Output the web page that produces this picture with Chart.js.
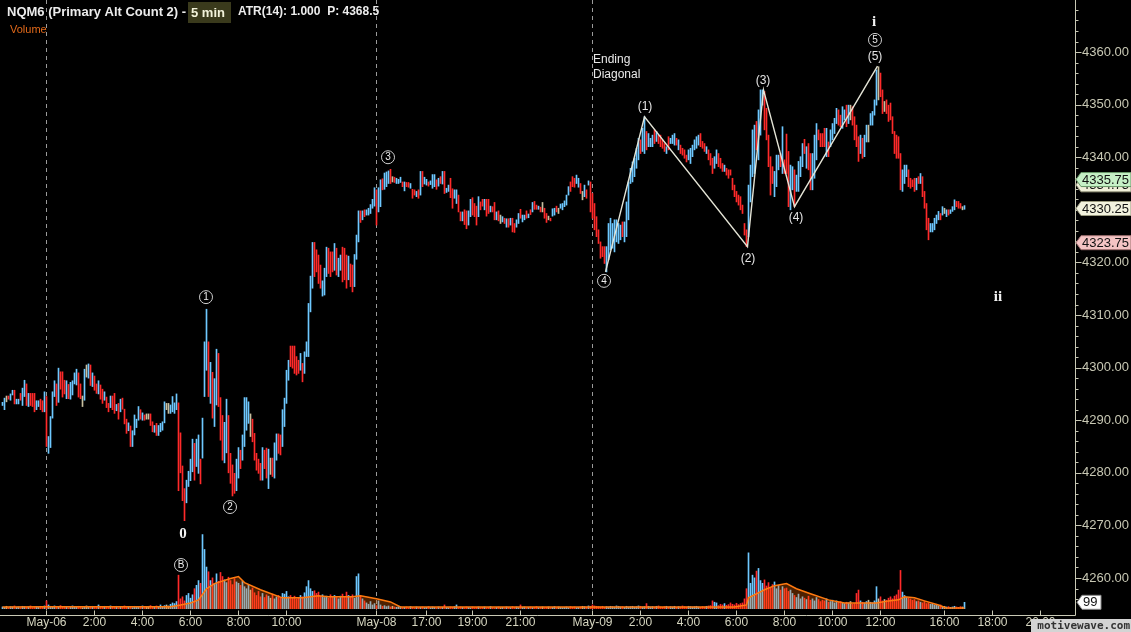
<!DOCTYPE html>
<html><head><meta charset="utf-8">
<script src="https://cdn.jsdelivr.net/npm/chart.js@4.4.1/dist/chart.umd.min.js"></script>
<style>html,body{margin:0;padding:0;background:#000;overflow:hidden}canvas{display:block}</style>
</head><body>
<canvas id="c" width="1131" height="632"></canvas>
<script>
// ---------- DATA ----------
const highs = [
4293.4,4294.2,4294.6,4294.6,4295.0,4295.7,4295.7,4294.0,4294.0,4295.1,
4296.1,4297.6,4296.9,4295.1,4295.1,4295.1,4295.1,4293.7,4293.7,4294.0,
4293.7,4295.4,4294.5,4286.9,4290.7,4295.4,4297.5,4296.9,4299.9,4299.2,
4299.2,4297.6,4297.5,4296.8,4297.2,4297.5,4299.0,4299.7,4299.0,4296.9,
4294.6,4299.7,4300.5,4300.7,4300.5,4299.0,4298.4,4296.9,4297.5,4296.7,
4295.9,4295.4,4294.4,4293.2,4294.6,4294.6,4295.1,4293.0,4293.2,4294.0,
4294.2,4292.1,4290.2,4289.5,4288.9,4288.0,4291.0,4290.2,4292.6,4292.0,
4291.4,4291.0,4291.2,4291.2,4291.2,4289.7,4289.0,4289.4,4289.0,4289.4,
4289.7,4293.5,4293.2,4293.2,4292.9,4294.5,4293.3,4295.0,4293.3,4287.6,
4281.3,4277.0,4278.6,4280.3,4282.6,4286.4,4285.6,4286.4,4287.2,
4282.6,4290.4,4304.9,4311.1,4304.9,4301.0,4299.1,4297.9,4303.5,4302.7,
4294.3,4290.9,4289.6,4294.0,4290.9,4283.7,4281.5,4279.9,4282.6,4284.8,
4284.3,4287.2,4294.3,4294.3,4293.5,4291.2,4290.2,4287.5,4283.7,4282.6,
4281.8,4284.8,4284.3,4284.7,4284.5,4282.8,4282.8,4285.7,4287.4,4287.4,
4287.2,4292.0,4294.2,4299.5,4301.4,4304.1,4304.1,4304.1,4302.1,4301.4,
4302.7,4300.8,4303.0,4304.9,4312.2,4317.4,4323.8,4323.8,4322.4,4321.4,
4319.5,4316.5,4318.9,4322.9,4322.7,4322.0,4322.0,4323.6,4322.7,4320.8,
4321.4,4322.9,4322.7,4321.4,4321.2,4319.7,4319.5,4321.5,4325.2,4329.8,
4329.8,4329.8,4330.0,4330.0,4330.3,4331.0,4332.0,4334.2,4333.8,4334.2,
4335.7,4335.9,4337.0,4337.2,4337.4,4337.7,4336.3,4336.2,4336.0,4335.8,
4336.2,4335.3,4335.3,4335.2,4335.2,4335.0,4333.9,4333.8,4333.5,4333.8,
4337.3,4337.3,4336.2,4335.8,4335.3,4335.5,4336.7,4336.7,4335.7,4336.0,
4336.3,4337.3,4337.3,4334.1,4334.7,4336.0,4334.0,4333.8,4333.8,4332.8,
4329.6,4329.6,4330.0,4329.8,4329.8,4332.0,4332.3,4331.2,4330.7,4332.5,
4331.5,4332.0,4332.0,4332.0,4332.0,4330.7,4330.6,4331.4,4329.6,4329.8,
4329.0,4328.7,4328.4,4328.3,4328.3,4328.4,4328.4,4327.4,4328.1,4329.3,
4330.1,4329.0,4329.0,4329.8,4329.2,4330.0,4331.4,4331.6,4330.9,4330.7,
4330.5,4331.4,4330.3,4329.3,4328.8,4328.4,4330.2,4330.3,4330.7,4330.3,
4331.1,4331.2,4331.7,4332.8,4334.4,4335.3,4336.3,4336.0,4336.6,4336.0,
4335.0,4333.5,4334.7,4333.8,4335.5,4335.3,
4333.1,4331.2,4328.7,4326.2,4323.9,4323.0,4323.0,4323.0,4327.4,4328.4,
4327.4,4328.1,4328.1,4327.4,4327.1,4327.7,4327.7,4331.5,4335.3,4337.9,
4339.1,4339.8,4341.7,4343.6,4343.3,4345.5,4347.7,4344.9,4344.5,4343.6,
4344.2,4345.2,4344.9,4344.2,4344.2,4343.3,4342.6,4342.0,4343.9,4343.6,
4344.2,4344.5,4343.6,4343.3,4342.3,4341.7,4341.4,4340.4,4341.4,4341.7,
4342.3,4343.3,4343.9,4344.2,4344.5,4343.0,4342.6,4342.0,4341.4,4340.7,
4339.8,4340.1,4341.4,4340.7,4339.8,4338.8,4338.5,4337.9,4337.6,4337.6,
4336.0,4334.7,4333.5,4332.8,4332.5,4330.9,4327.4,4326.2,4334.7,4338.5,
4345.2,4346.1,4346.8,4349.0,4352.8,4352.8,4352.5,4349.3,4344.2,4340.1,
4338.2,4337.3,4340.4,4340.4,4340.7,4345.8,4339.5,
4344.4,4341.1,4338.5,4338.2,4337.6,4336.6,4339.2,4340.1,4342.6,4343.4,
4342.0,4342.6,4340.7,4340.7,4344.2,4346.4,4345.2,4344.5,4344.5,4345.5,
4345.5,4342.9,4345.2,4346.4,4347.4,4349.3,4349.0,4348.0,4349.6,4349.0,
4349.9,4349.9,4349.9,4349.6,4347.7,4346.1,4343.9,4344.2,4343.6,4344.2,
4346.1,4346.1,4348.3,4348.7,4350.9,4356.6,4357.2,4356.0,4352.8,4350.6,
4350.9,4349.9,4350.3,4347.7,4344.9,4344.2,4343.9,4340.7,4337.6,4338.5,
4338.5,4337.6,4336.0,4335.7,4336.0,4336.0,4336.3,4336.9,4336.3,4333.5,
4331.2,4328.4,4327.4,4327.4,4328.4,4329.0,4329.7,4329.3,4330.6,4330.3,
4330.0,4330.0,4330.0,4330.6,4331.9,4331.6,4331.6,4331.2,4330.6,4330.8
];
const lows = [
4292.8,4292.0,4293.5,4294.0,4293.8,4294.8,4293.1,4293.1,4293.1,4293.8,
4292.8,4294.5,4292.8,4292.6,4292.8,4292.6,4291.6,4292.0,4292.6,4292.0,
4291.6,4291.6,4285.0,4283.7,4284.8,4290.4,4294.5,4292.8,4293.4,4295.9,
4294.4,4295.0,4294.1,4294.1,4294.0,4294.8,4296.9,4296.7,4294.4,4294.1,
4292.6,4293.8,4298.2,4298.0,4296.6,4296.4,4295.7,4295.1,4295.0,4294.0,
4293.2,4293.8,4292.4,4291.6,4292.4,4292.0,4291.3,4291.8,4290.2,4291.6,
4292.1,4289.3,4287.5,4288.0,4285.0,4285.0,4287.2,4288.6,4290.0,4290.2,
4290.0,4290.0,4290.2,4290.2,4289.0,4287.8,4287.7,4287.1,4287.1,4287.8,
4288.1,4289.5,4292.0,4291.3,4291.3,4291.6,4291.3,4292.0,4276.6,4280.0,
4274.7,4270.9,4274.3,4277.4,4278.5,4280.2,4278.6,4281.2,4279.9,
4277.9,4282.8,4294.5,4299.5,4294.5,4293.2,4290.4,4288.8,4292.9,4292.6,
4286.2,4282.4,4281.9,4283.8,4280.0,4278.0,4275.6,4276.1,4276.6,4279.0,
4280.8,4282.4,4285.0,4288.1,4289.4,4286.9,4285.9,4282.4,4280.5,4279.9,
4278.6,4278.6,4280.8,4279.0,4277.0,4279.7,4279.3,4279.0,4282.4,4283.7,
4283.4,4285.0,4288.8,4293.2,4297.6,4300.2,4299.9,4298.9,4298.6,4298.9,
4299.5,4297.3,4298.9,4302.1,4302.1,4310.6,4315.1,4317.3,4318.2,4316.0,
4315.1,4313.6,4313.8,4317.3,4317.9,4317.3,4318.2,4318.5,4317.6,4317.3,
4318.5,4316.3,4316.7,4315.1,4316.7,4315.4,4314.4,4315.4,4320.6,4323.9,
4327.6,4328.1,4328.7,4329.0,4329.0,4329.3,4330.3,4330.7,4327.1,4329.6,
4330.6,4333.8,4333.9,4334.4,4335.0,4335.0,4335.3,4335.2,4335.0,4335.0,
4335.2,4334.4,4333.6,4334.4,4334.3,4334.1,4332.2,4332.8,4332.5,4332.2,
4332.8,4334.4,4334.9,4334.7,4334.5,4334.8,4334.1,4334.4,4333.9,4334.5,
4335.0,4334.9,4333.1,4333.3,4333.5,4332.3,4330.3,4332.2,4331.2,4329.6,
4327.9,4327.9,4327.2,4326.4,4327.1,4328.7,4329.0,4328.7,4327.1,4328.7,
4330.0,4330.7,4330.0,4328.8,4329.3,4329.6,4329.6,4328.1,4328.1,4327.9,
4327.4,4327.7,4327.4,4326.7,4326.7,4327.1,4325.8,4325.7,4326.7,4327.4,
4328.4,4327.7,4328.1,4328.4,4328.5,4329.1,4329.6,4330.1,4330.1,4330.1,
4329.6,4329.6,4328.4,4327.6,4328.1,4327.9,4328.8,4329.0,4329.6,4329.3,
4330.3,4330.0,4330.6,4330.9,4332.8,4333.5,4334.4,4334.3,4335.0,4334.3,
4333.1,4331.9,4332.5,4332.2,4334.7,4329.6,
4328.4,4326.2,4324.9,4323.6,4320.8,4321.1,4319.8,4318.2,4320.5,4322.4,
4322.7,4322.0,4323.9,4323.6,4324.3,4324.9,4323.9,4324.9,4328.1,4335.0,
4335.3,4336.3,4337.9,4339.5,4340.7,4341.1,4340.7,4341.4,4342.0,4342.0,
4342.0,4342.6,4343.0,4342.6,4342.0,4341.7,4341.1,4340.7,4341.4,4342.6,
4342.6,4342.3,4342.3,4341.4,4340.7,4340.4,4339.8,4339.1,4339.5,4338.8,
4340.1,4341.4,4341.7,4342.3,4342.0,4341.7,4341.1,4340.7,4339.5,4338.5,
4336.9,4337.9,4338.8,4338.2,4337.9,4337.3,4337.3,4336.6,4336.0,4336.6,
4333.8,4332.5,4331.5,4330.9,4330.0,4329.3,4325.2,4323.0,4324.9,4331.5,
4336.3,4336.9,4341.4,4339.5,4344.2,4349.9,4345.2,4343.3,4338.2,4332.8,
4335.0,4332.5,4334.4,4337.6,4338.2,4336.9,4336.9,
4336.9,4330.6,4330.0,4333.8,4330.6,4333.5,4333.5,4336.3,4338.2,4340.7,
4337.9,4337.6,4333.8,4333.8,4336.0,4339.5,4343.3,4342.0,4342.0,4342.0,
4340.1,4340.1,4342.0,4343.3,4344.5,4346.4,4346.1,4345.8,4345.5,4347.1,
4345.8,4346.4,4347.1,4346.1,4343.3,4342.0,4339.2,4340.7,4339.8,4340.1,
4342.9,4342.9,4346.1,4346.1,4348.0,4349.9,4350.9,4351.5,4348.3,4348.7,
4348.3,4346.8,4347.1,4344.5,4340.7,4339.8,4339.8,4333.8,4333.5,4335.0,
4336.3,4334.4,4334.1,4334.4,4333.5,4333.8,4335.0,4335.0,4332.5,4330.3,
4326.2,4324.3,4325.8,4325.8,4326.2,4327.4,4328.1,4328.1,4329.0,4329.3,
4328.7,4329.0,4329.3,4329.7,4330.0,4330.6,4330.3,4330.3,4330.0,4330.1
];
// bar direction: u = up (close>open), d = down, n = unchanged
const barDir = [
"uunduuduud","uududdduud","duduuuudud","dduduuuudd","nunududdud",
"dudduddudu","ddduduuuud","udnndduduu","uunnuuuudd","dduuuuduu",
"duuududuud","dduudddduu","duuuundddd","duddunduud","duuuuddddd",
"uduuuuuddd","duuudddudu","udddudduuu","duduuuuudu","uduuudnduu",
"ududduddud","uduuduuudu","duduudduud","dudduudddu","ddudduddud",
"nudududduu","duudududdu","dnddnduudn","uuuuuddduu","dnudud",
"ddddddduuu","uuuuuduuuu","uuuuduuduu","ududdddudu","uududddduu",
"uuuudddudd","duuddduddd","dddddddduu","uuduuudddd","duuudud",
"dduuduuuud","udduuudddd","uduuuudduu","dunddddudu","unuuuunddn",
"dddddddduu","uddddududd","dduuuuudun","uduuudddnu"
].join('');
const volumes = [
30,25,40,20,35,30,45,25,30,20,40,35,25,30,45,20,30,35,25,40,30,45,
120,60,
40,30,45,35,25,50,30,40,35,20,30,45,25,35,40,30,20,35,45,30,25,40,30,35,60,30,25,40,35,30,45,25,30,40,20,35,30,45,25,35,30,20,40,35,30,25,45,30,35,40,50,30,25,45,35,60,40,
50,60,45,70,90,80,110,500,
150,180,120,200,230,160,210,
300,350,420,380,1100,880,620,550,420,
460,380,520,410,540,480,430,390,470,420,360,450,400,380,350,410,330,300,360,280,310,
240,200,260,180,230,170,210,190,160,220,150,180,200,170,230,
220,260,180,200,160,190,150,170,200,180,
240,330,420,300,260,270,230,250,190,210,
170,190,160,210,180,200,170,150,190,220,180,250,200,180,210,160,
480,520,200,150,
120,90,70,110,60,80,50,120,60,40,50,35,45,30,40,30,25,35,30,20,
25,30,20,35,25,15,30,20,25,30,
20,25,35,20,30,25,15,30,20,25,
60,25,20,30,25,35,60,20,30,25,
20,30,25,15,30,20,25,30,20,25,
30,20,25,35,20,15,25,30,20,25,
20,30,25,20,35,25,30,20,60,25,
30,20,25,30,20,25,35,20,25,30,
20,25,30,20,25,35,20,30,25,20,
25,30,20,35,25,30,20,25,30,40,
35,30,45,40,
60,45,40,35,30,40,25,35,30,40,
35,30,45,40,30,35,25,40,30,35,
40,30,35,45,40,30,35,80,40,30,
35,30,40,45,30,25,35,40,30,35,
30,40,25,35,30,45,35,30,40,35,
30,35,40,30,25,35,30,40,45,50,
120,100,90,50,70,60,80,55,65,90,
70,60,85,65,80,90,
150,300,830,380,500,460,560,600,420,
380,430,340,390,320,360,400,300,350,280,330,300,310,260,280,230,
200,170,220,150,180,160,140,190,130,150,120,170,140,110,130,120,150,100,110,130,90,120,100,110,90,
80,100,90,110,70,80,230,280,120,100,90,110,130,100,90,120,330,150,180,120,
140,130,160,180,150,190,210,280,570,250,200,170,
160,150,130,140,110,120,100,90,110,80,90,70,80,60,70,50,60,40,
40,30,35,25,30,40,30,25,35,30,99
];
// volume moving average, read at selected bars
const maIdx = [0,22,84,89,94,98,102,106,114,118,121,129,133,140,150,158,163,175,179,187,194,199,366,372,373,381,386,392,397,404,413,421,437,443,448,451,456,461,468,472,481];
const maVal = [30,35,35,60,90,135,300,375,450,480,390,285,240,165,165,195,180,180,195,150,105,30,30,60,165,285,345,375,300,225,135,90,90,120,135,180,165,120,60,15,15];

// axis ticks
const xTickIdx = [22,46,70,94,118,142,187,212,235,259,295,319,343,367,391,415,439,471,495,519];
const xTickLabels = ['May-06','2:00','4:00','6:00','8:00','10:00','May-08','17:00','19:00','21:00','May-09','2:00','4:00','6:00','8:00','10:00','12:00','16:00','18:00','20:00'];
const dayIdx = [22,187,295];
const yTicks = [4260,4270,4280,4290,4300,4310,4320,4330,4340,4350,4360];

// Elliott wave annotations (bar index, price)
const diagIdx = [301.5,321,372.5,380.5,396,437.5];
const diagPrice = [4318.2,4347.7,4323.0,4352.8,4330.6,4357.3];
const circledText = ['1','2','3','4','5'];
const circledIdx = [101.75,113.75,192.75,300.75,436.25];
const circledPrice = [4313.4,4273.5,4340.0,4316.5,4362.3];
const parenText = ['(1)','(2)','(3)','(4)','(5)'];
const parenIdx = [321.25,372.75,380.25,396.75,436.25];
const parenPrice = [4349.7,4320.8,4354.5,4328.45,4359.2];
const romanText = ['0','i','ii'];
const romanIdx = [90.25,435.75,497.75];
const romanPrice = [4268.4,4365.7,4313.4];
const priceTags = [[4334.75,'4334.75','#efefd8','#9a9a80'],[4335.75,'4335.75','#c6f0c6','#6a9a6a'],[4330.25,'4330.25','#f2f2de','#9a9a80'],[4323.75,'4323.75','#f4c4c4','#a07070']];

// ---------- CHART ----------
const UP='#6ec8ff', DN='#ff2a2a', FL='#c8c0a0';
const dirColor = d => d==='u'?UP:(d==='d'?DN:FL);
const colors = Array.from(barDir).map(dirColor);

const decor = {
  id:'decor',
  beforeDraw(c){
    const ctx=c.ctx; ctx.save(); ctx.fillStyle='#000'; ctx.fillRect(0,0,c.width,c.height); ctx.restore();
  },
  beforeDatasetsDraw(c){
    const ctx=c.ctx, x=c.scales.x, a=c.chartArea;
    ctx.save();
    ctx.strokeStyle='#9a9a9a'; ctx.lineWidth=1; ctx.setLineDash([4,4]);
    dayIdx.forEach(i=>{const px=Math.floor(x.getPixelForValue(i))+0.5; ctx.beginPath(); ctx.moveTo(px,0); ctx.lineTo(px,a.bottom+1); ctx.stroke();});
    ctx.restore();
  },
  afterDatasetsDraw(c){
    const ctx=c.ctx, X=c.scales.x, Y=c.scales.y, V=c.scales.yv, a=c.chartArea;
    const px=i=>X.getPixelForValue(i), py=p=>Y.getPixelForValue(p);
    ctx.save();
    // diagonal wave line
    ctx.strokeStyle='#e4e4d6'; ctx.lineWidth=1.4; ctx.beginPath();
    diagIdx.forEach((i,k)=>{const xx=px(i), yy=py(diagPrice[k]); if(k===0)ctx.moveTo(xx,yy); else ctx.lineTo(xx,yy);});
    ctx.stroke();
    // circled labels
    const circ=(xx,yy,t)=>{
      ctx.beginPath(); ctx.arc(xx,yy,6.5,0,Math.PI*2); ctx.strokeStyle='#cfcfcf'; ctx.lineWidth=1; ctx.stroke();
      ctx.fillStyle='#ececec'; ctx.font='10px "Liberation Sans"'; ctx.textAlign='center'; ctx.textBaseline='middle';
      ctx.fillText(t,xx,yy+0.5);
    };
    circledText.forEach((t,k)=>circ(px(circledIdx[k]),py(circledPrice[k]),t));
    circ(px(89.25),V.getPixelForValue(650),'B');
    ctx.fillStyle='#e4e4e4'; ctx.font='12px "Liberation Sans"'; ctx.textAlign='center'; ctx.textBaseline='middle';
    parenText.forEach((t,k)=>ctx.fillText(t,px(parenIdx[k]),py(parenPrice[k])));
    ctx.font='bold 15px "Liberation Serif"'; ctx.fillStyle='#f2f2f2';
    romanText.forEach((t,k)=>ctx.fillText(t,px(romanIdx[k]),py(romanPrice[k])));
    ctx.font='12px "Liberation Sans"'; ctx.textAlign='left'; ctx.fillStyle='#e8e8e8';
    ctx.fillText('Ending',px(295.25),py(4358.5));
    ctx.fillText('Diagonal',px(295.25),py(4355.6));

    // axes
    const axC='#c8c8b4';
    ctx.strokeStyle=axC; ctx.lineWidth=1;
    const ax=a.right+0.5, bl=a.bottom+6.5;
    ctx.beginPath(); ctx.moveTo(ax,0); ctx.lineTo(ax,bl); ctx.moveTo(0,bl); ctx.lineTo(ax,bl); ctx.stroke();
    for(let v=4256; v<=4368; v+=2){
      const yy=Math.round(py(v))+0.5, len=(v%10===0)?6:3;
      ctx.beginPath(); ctx.moveTo(ax,yy); ctx.lineTo(ax+len,yy); ctx.stroke();
    }
    ctx.fillStyle=axC; ctx.font='13px "Liberation Sans"'; ctx.textAlign='left'; ctx.textBaseline='middle';
    yTicks.forEach(v=>ctx.fillText(v.toFixed(2),a.right+7,py(v)));
    xTickIdx.forEach((i,k)=>{
      const xx=Math.floor(px(i))+0.5;
      ctx.beginPath(); ctx.moveTo(xx,bl-5); ctx.lineTo(xx,bl); ctx.stroke();
    });
    ctx.fillStyle='#d6d6c0'; ctx.font='12px "Liberation Sans"'; ctx.textAlign='center';
    xTickIdx.forEach((i,k)=>ctx.fillText(xTickLabels[k],px(i),623));

    // price tags
    const tag=(yy,t,fill,stroke,x0,w)=>{
      ctx.beginPath(); ctx.moveTo(x0,yy); ctx.lineTo(x0+5,yy-7); ctx.lineTo(x0+w,yy-7); ctx.lineTo(x0+w,yy+7); ctx.lineTo(x0+5,yy+7); ctx.closePath();
      ctx.fillStyle=fill; ctx.fill(); ctx.strokeStyle=stroke; ctx.lineWidth=1; ctx.stroke();
      ctx.fillStyle='#111'; ctx.font='13px "Liberation Sans"'; ctx.textAlign='left'; ctx.textBaseline='middle';
      ctx.fillText(t,x0+6,yy+0.5);
    };
    priceTags.forEach(p=>tag(py(p[0]),p[1],p[2],p[3],a.right+1,55));
    tag(V.getPixelForValue(volumes[volumes.length-1]),String(volumes[volumes.length-1]),'#ffffff','#888',a.right+2,24);

    // header
    ctx.textBaseline='middle'; ctx.textAlign='left';
    ctx.font='bold 13px "Liberation Sans"'; ctx.fillStyle='#ececec';
    ctx.fillText('NQM6 (Primary Alt Count 2) -',7,12);
    ctx.fillStyle='#3a3a1c'; ctx.fillRect(188,2,43,21);
    ctx.font='bold 13px "Liberation Sans"'; ctx.fillStyle='#f2f2da';
    ctx.fillText('5 min',191,13);
    ctx.font='bold 12px "Liberation Sans"'; ctx.fillStyle='#ececec';
    ctx.fillText('ATR(14): 1.000  P: 4368.5',238,12);
    ctx.font='11px "Liberation Sans"'; ctx.fillStyle='#e2691a';
    ctx.fillText('Volume',10,30);

    // watermark
    ctx.fillStyle='#d4d4d4'; ctx.fillRect(1031,619,100,13);
    ctx.font='bold 11px "DejaVu Sans Mono"'; ctx.fillStyle='#333'; ctx.textAlign='right';
    ctx.fillText('motivewave.com',1130,626);
    ctx.restore();
  }
};

new Chart(document.getElementById('c'),{
  data:{
    datasets:[
      {type:'line', label:'Volume MA', data:maIdx.map((i,k)=>({x:i,y:maVal[k]})), yAxisID:'yv', xAxisID:'x',
       borderColor:'#ff7a10', borderWidth:1.5, pointRadius:0, fill:'origin', backgroundColor:'rgba(255,105,0,0.3)', tension:0, order:0},
      {type:'bar', label:'Volume', data:volumes.map((v,i)=>({x:i,y:v})), yAxisID:'yv', xAxisID:'x',
       backgroundColor:colors, barThickness:1, borderWidth:0, grouped:false, order:1},
      {type:'bar', label:'NQM6', data:highs.map((h,i)=>({x:i,y:[lows[i],h]})), yAxisID:'y', xAxisID:'x',
       backgroundColor:colors, barThickness:1, borderWidth:0, grouped:false, order:2}
    ]
  },
  options:{
    responsive:false, animation:false, devicePixelRatio:1,
    layout:{padding:{left:0,top:0,right:56,bottom:23}},
    plugins:{legend:{display:false}, tooltip:{enabled:false}},
    scales:{
      x:{type:'linear', min:-1.25, max:536.25, offset:false, display:false},
      y:{type:'linear', min:4254.11, max:4369.89, display:false},
      yv:{type:'linear', min:0, max:9000, display:false}
    }
  },
  plugins:[decor]
});
</script>
</body></html>
